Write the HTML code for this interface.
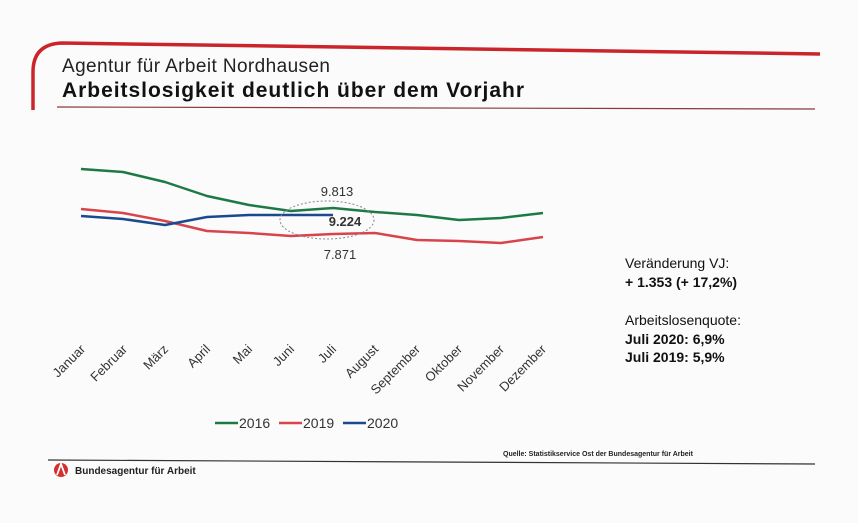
<!DOCTYPE html>
<html><head><meta charset="utf-8"><style>
html,body{margin:0;padding:0;background:#fbfbfb;width:858px;height:523px;overflow:hidden}
svg{display:block;font-family:"Liberation Sans",Arial,sans-serif}
</style></head><body>
<svg width="858" height="523" viewBox="0 0 858 523">
<rect width="858" height="523" fill="#fbfbfb"/>
<path d="M33,110 L33,72 Q33,44 62,43 L820,54" fill="none" stroke="#c9252b" stroke-width="3.5"/>
<line x1="57" y1="107" x2="815" y2="109" stroke="#8a3a3a" stroke-width="1.2"/>
<text x="62" y="72" font-size="19" fill="#222" textLength="268">Agentur für Arbeit Nordhausen</text>
<text x="62" y="97" font-size="21" font-weight="bold" fill="#111" textLength="462">Arbeitslosigkeit deutlich über dem Vorjahr</text>
<g fill="none" stroke-width="2.5" stroke-linejoin="round">
<polyline stroke="#1e7a45" points="81,169 123,172 165,182 207,196 249,205 291,211 333,208 375,212 417,215 459,220 501,218 543,213"/>
<polyline stroke="#d9434c" points="81,209 123,213 165,221 207,231 249,233 291,236 333,234 375,233 417,240 459,241 501,243 543,237"/>
<polyline stroke="#1a4a8e" points="81,216 123,219 165,225 207,217 249,215 291,215 333,215"/>
</g>
<ellipse cx="327" cy="220" rx="47" ry="19" fill="none" stroke="#888" stroke-width="1" stroke-dasharray="2,2"/>
<text x="337" y="196" font-size="13" fill="#333" text-anchor="middle">9.813</text>
<text x="345" y="226" font-size="13" font-weight="bold" fill="#333" text-anchor="middle">9.224</text>
<text x="340" y="259" font-size="13" fill="#333" text-anchor="middle">7.871</text>
<g font-size="13" fill="#333" text-anchor="end">
<text transform="translate(86,350) rotate(-45)">Januar</text>
<text transform="translate(128,350) rotate(-45)">Februar</text>
<text transform="translate(169,350) rotate(-45)">März</text>
<text transform="translate(211,350) rotate(-45)">April</text>
<text transform="translate(253,350) rotate(-45)">Mai</text>
<text transform="translate(295,350) rotate(-45)">Juni</text>
<text transform="translate(337,350) rotate(-45)">Juli</text>
<text transform="translate(379,350) rotate(-45)">August</text>
<text transform="translate(421,350) rotate(-45)">September</text>
<text transform="translate(463,350) rotate(-45)">Oktober</text>
<text transform="translate(505,350) rotate(-45)">November</text>
<text transform="translate(547,350) rotate(-45)">Dezember</text>
</g>
<g stroke-width="2.5">
<line x1="215" y1="423" x2="238" y2="423" stroke="#1e7a45"/>
<line x1="279" y1="423" x2="302" y2="423" stroke="#d9434c"/>
<line x1="343" y1="423" x2="366" y2="423" stroke="#1a4a8e"/>
</g>
<g font-size="14" fill="#333">
<text x="239" y="428">2016</text><text x="303" y="428">2019</text><text x="367" y="428">2020</text>
</g>
<g font-size="14" fill="#111">
<text x="625" y="268">Veränderung VJ:</text>
<text x="625" y="287" font-weight="bold">+ 1.353 (+ 17,2%)</text>
<text x="625" y="325">Arbeitslosenquote:</text>
<text x="625" y="344" font-weight="bold">Juli 2020: 6,9%</text>
<text x="625" y="362" font-weight="bold">Juli 2019: 5,9%</text>
</g>
<text x="503" y="456" font-size="7" font-weight="bold" fill="#222">Quelle: Statistikservice Ost der Bundesagentur für Arbeit</text>
<line x1="48" y1="460" x2="815" y2="464" stroke="#333" stroke-width="1.2"/>
<circle cx="61" cy="470" r="7" fill="#d32f2f"/>
<path d="M57,475 L61,464 L65,475" fill="none" stroke="#fff" stroke-width="1.8"/>
<text x="75" y="474" font-size="10" font-weight="bold" fill="#222">Bundesagentur für Arbeit</text>
</svg>
</body></html>
